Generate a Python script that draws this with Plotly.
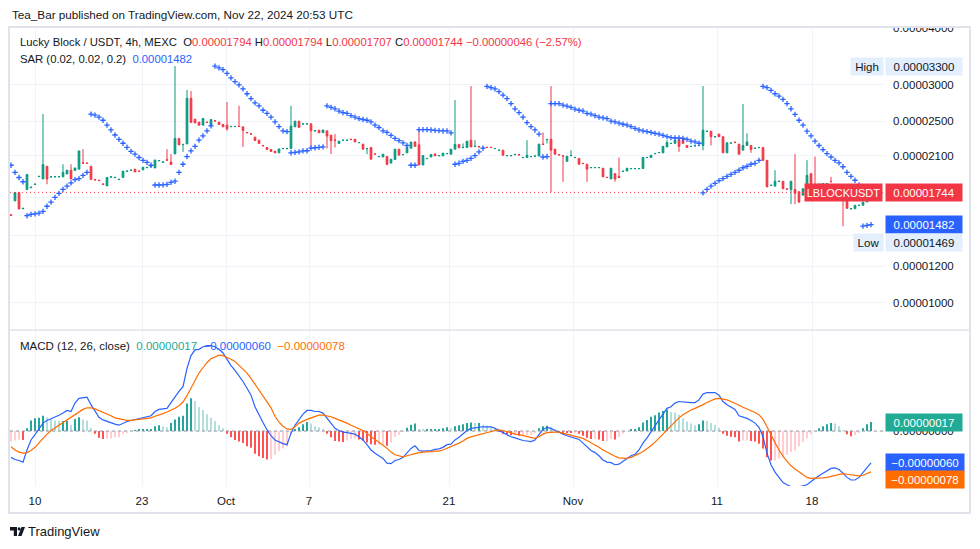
import math
import plotly.graph_objects as go

# ---------------- data (prices in units of 1e-8 USDT) ----------------
UNIT = 1e-8
SYMBOL = "LBLOCKUSDT"
TITLE = "Lucky Block / USDT, 4h, MEXC"
HEADER = "Tea_Bar published on TradingView.com, Nov 22, 2024 20:53 UTC"

OPEN = [1558, 1670, 1742, 1605, 1769, 1785, 1815, 1888, 1866, 1990,
        1884, 1886, 1886, 1886, 1914, 1951, 1948, 1961, 2025, 2022,
        1990, 1860, 1855, 1820, 1802, 1883, 1878, 1860, 1880, 1940,
        1949, 1961, 1942, 1954, 1975, 1990, 1973, 2045, 2031, 2056,
        2033, 2118, 2290, 2220, 2228, 2804, 2524, 2487, 2449, 2488,
        2445, 2505, 2487, 2458, 2449, 2430, 2431, 2435, 2428, 2360,
        2345, 2305, 2270, 2210, 2188, 2166, 2147, 2129, 2175, 2174,
        2177, 2428, 2499, 2462, 2463, 2465, 2378, 2388, 2358, 2380,
        2328, 2272, 2233, 2268, 2268, 2282, 2281, 2241, 2225, 2175,
        2188, 2118, 2088, 2085, 2090, 2022, 2058, 2169, 2109, 2129,
        2180, 2248, 2217, 2003, 2068, 2085, 2115, 2098, 2097, 2120,
        2115, 2169, 2222, 2186, 2188, 2270, 2198, 2197, 2186, 2190,
        2190, 2175, 2156, 2158, 2098, 2098, 2109, 2110, 2078, 2080,
        2088, 2093, 2095, 2225, 2276, 2281, 2169, 2110, 2098, 2040,
        2098, 2078, 2070, 2020, 2010, 1975, 1975, 1975, 1970, 1882,
        1866, 1917, 1890, 1939, 1943, 1965, 1965, 1965, 1967, 2078,
        2080, 2120, 2131, 2129, 2194, 2232, 2234, 2278, 2278, 2210,
        2198, 2205, 2208, 2210, 2373, 2375, 2308, 2341, 2310, 2129,
        2236, 2248, 2225, 2158, 2210, 2210, 2178, 2186, 2188, 2050,
        1806, 1800, 1843, 1845, 1776, 1769, 1769, 1750, 1719, 1776,
        1917, 1808, 1815, 1820, 1820, 1842, 1816, 1814, 1700, 1676,
        1604, 1606, 1632, 1634, 1662, 1794]

HIGH = [1560, 1742, 1742, 1609, 1909, 1790, 1818, 1891, 2589, 1990,
        1886, 1888, 1888, 2010, 1951, 2010, 1973, 2150, 2169, 2022,
        1990, 1860, 1855, 1820, 1880, 1886, 1881, 1863, 1941, 1942,
        1951, 1961, 1942, 1980, 1978, 1993, 2054, 2048, 2034, 2169,
        2115, 3300, 2290, 2222, 2924, 2910, 2524, 2487, 2533, 2488,
        2520, 2505, 2487, 2458, 2752, 2433, 2433, 2701, 2428, 2360,
        2345, 2305, 2270, 2210, 2188, 2166, 2147, 2172, 2177, 2176,
        2701, 2499, 2499, 2465, 2465, 2465, 2380, 2388, 2390, 2380,
        2328, 2341, 2259, 2270, 2270, 2282, 2281, 2243, 2225, 2177,
        2194, 2118, 2090, 2115, 2090, 2062, 2169, 2169, 2111, 2188,
        2248, 2259, 2388, 2100, 2070, 2111, 2126, 2100, 2126, 2122,
        2169, 2780, 2222, 2233, 2259, 2983, 2270, 2197, 2188, 2190,
        2190, 2177, 2158, 2158, 2100, 2100, 2120, 2110, 2080, 2270,
        2090, 2095, 2225, 2360, 2278, 2983, 2169, 2110, 2098, 2093,
        2158, 2080, 2070, 2020, 2010, 1977, 1977, 1977, 1970, 1882,
        1970, 1917, 2080, 1941, 1970, 1967, 1967, 1967, 2080, 2080,
        2104, 2122, 2133, 2200, 2270, 2234, 2270, 2278, 2290, 2210,
        2200, 2207, 2210, 2983, 2375, 2375, 2310, 2341, 2310, 2240,
        2238, 2248, 2225, 2725, 2350, 2210, 2180, 2188, 2188, 2050,
        1808, 1951, 1845, 1845, 1776, 1845, 2115, 1750, 1776, 2052,
        1917, 2090, 1817, 1822, 1822, 1886, 1816, 1814, 1710, 1676,
        1606, 1634, 1634, 1660, 1790, 1794]

LOW = [1550, 1670, 1603, 1605, 1769, 1785, 1815, 1888, 1866, 1817,
       1884, 1886, 1886, 1886, 1914, 1866, 1948, 1961, 2020, 2020,
       1862, 1857, 1851, 1817, 1802, 1883, 1878, 1860, 1880, 1940,
       1949, 1934, 1940, 1954, 1975, 1990, 1973, 2045, 2031, 2052,
       2007, 2118, 2217, 2140, 2228, 2483, 2477, 2449, 2449, 2483,
       2445, 2500, 2458, 2428, 2380, 2430, 2431, 2432, 2194, 2356,
       2341, 2267, 2233, 2206, 2166, 2144, 2129, 2129, 2175, 2174,
       2177, 2428, 2420, 2462, 2463, 2188, 2378, 2356, 2358, 2177,
       2115, 2188, 2233, 2268, 2268, 2278, 2250, 2241, 2169, 2115,
       2062, 2115, 2088, 2085, 2000, 2022, 2058, 2104, 2109, 2129,
       2180, 2200, 2003, 2003, 2068, 2085, 2097, 2098, 2097, 2120,
       2115, 2169, 2185, 2186, 2188, 2194, 2198, 2194, 2186, 2188,
       2188, 2175, 2156, 2104, 2098, 2098, 2109, 2107, 2078, 2080,
       2088, 2093, 2095, 2222, 2233, 1747, 2115, 2107, 1840, 2040,
       2098, 2078, 2010, 2017, 1840, 1975, 1975, 1975, 1886, 1880,
       1866, 1840, 1880, 1939, 1943, 1965, 1965, 1965, 1967, 2078,
       2080, 2120, 2131, 2129, 2194, 2232, 2234, 2140, 2234, 2188,
       2198, 2205, 2208, 2158, 2373, 2210, 2308, 2310, 2129, 2129,
       2236, 2245, 2115, 2158, 2210, 2129, 2178, 2186, 2050, 1793,
       1806, 1800, 1843, 1776, 1773, 1643, 1643, 1660, 1719, 1776,
       1793, 1763, 1815, 1820, 1820, 1840, 1814, 1680, 1469, 1609,
       1604, 1606, 1632, 1634, 1662, 1707]

CLOSE = [1553, 1742, 1603, 1609, 1909, 1790, 1818, 1891, 2007, 1866,
         1886, 1888, 1888, 1928, 1951, 1866, 1973, 2150, 2020, 2020,
         1862, 1857, 1851, 1817, 1880, 1886, 1881, 1863, 1941, 1942,
         1951, 1934, 1940, 1980, 1978, 1993, 2054, 2048, 2034, 2052,
         2007, 2290, 2217, 2222, 2804, 2483, 2477, 2449, 2533, 2483,
         2520, 2500, 2458, 2428, 2404, 2433, 2433, 2432, 2384, 2356,
         2341, 2267, 2233, 2206, 2166, 2144, 2129, 2172, 2177, 2176,
         2437, 2499, 2420, 2465, 2465, 2380, 2380, 2356, 2390, 2317,
         2263, 2270, 2259, 2270, 2270, 2278, 2250, 2243, 2169, 2177,
         2062, 2115, 2090, 2115, 2010, 2062, 2169, 2104, 2111, 2188,
         2248, 2200, 2003, 2100, 2070, 2111, 2097, 2100, 2126, 2122,
         2169, 2222, 2185, 2188, 2259, 2194, 2200, 2194, 2188, 2188,
         2188, 2177, 2158, 2104, 2100, 2100, 2111, 2107, 2080, 2104,
         2090, 2095, 2225, 2222, 2278, 2158, 2115, 2107, 2095, 2093,
         2100, 2080, 2010, 2017, 1961, 1977, 1977, 1977, 1886, 1880,
         1970, 1866, 1880, 1941, 1970, 1967, 1967, 1967, 2080, 2080,
         2104, 2122, 2133, 2200, 2244, 2234, 2270, 2200, 2234, 2188,
         2200, 2207, 2210, 2388, 2375, 2310, 2310, 2310, 2129, 2240,
         2238, 2245, 2115, 2210, 2250, 2166, 2180, 2188, 2050, 1793,
         1808, 1845, 1845, 1776, 1773, 1845, 1736, 1660, 1776, 1900,
         1793, 1763, 1817, 1822, 1822, 1840, 1814, 1680, 1690, 1609,
         1606, 1634, 1634, 1660, 1790, 1744]

SAR = [2000, 1930, 1880, 1840, 1550, 1560, 1565, 1570, 1585, 1626,
       1660, 1700, 1735, 1770, 1800, 1830, 1860, 1870, 1900, 1930,
       2590, 2576, 2550, 2510, 2450, 2390, 2330, 2280, 2235, 2190,
       2146, 2115, 2080, 2050, 2030, 2000, 1810, 1810, 1812, 1815,
       1835, 1845, 1930, 2010, 2090, 2150, 2200, 2270, 2320, 2380,
       2440, 3300, 3270, 3240, 3180, 3110, 3050, 3000, 2940, 2870,
       2800, 2740, 2700, 2640, 2600, 2550, 2490, 2430, 2380, 2370,
       2130, 2135, 2140, 2150, 2152, 2180, 2185, 2190, 2195, 2700,
       2680, 2660, 2630, 2610, 2600, 2570, 2550, 2530, 2520, 2510,
       2490, 2450, 2420, 2380, 2360, 2325, 2290, 2265, 2240, 2210,
       2000, 2000, 2395, 2395, 2395, 2390, 2385, 2382, 2378, 2378,
       2356, 2010, 2020, 2040, 2050, 2070, 2100, 2140, 2180, 2980,
       2960, 2940, 2900, 2850, 2800, 2730, 2660, 2610, 2550, 2480,
       2430, 2390, 2340, 2085, 2090, 2730, 2730, 2730, 2710, 2695,
       2680, 2655, 2640, 2630, 2600, 2590, 2570, 2550, 2540, 2530,
       2500, 2490, 2475, 2460, 2450, 2430, 2410, 2390, 2380, 2370,
       2360, 2350, 2340, 2325, 2310, 2300, 2295, 2295, 2290, 2280,
       2260, 2250, 2235, 1740, 1770, 1800, 1825, 1850, 1870, 1890,
       1910, 1930, 1950, 1975, 1990, 2010, 2020, 2050, 2980, 2960,
       2920, 2870, 2835, 2790, 2730, 2660, 2585, 2510, 2450, 2375,
       2320, 2260, 2210, 2165, 2120, 2085, 2050, 2025, 1985, 1930,
       1890, 1854, 1810, 1470, 1476, 1482]

MACD = [-50, -54, -56, -59, -36, -17, -7, 3, 15, 20,
        23, 26, 30, 34, 39, 37, 53, 62, 63, 64,
        50, 37, 26, 21, 18, 15, 13, 11, 15, 18,
        20, 22, 24, 26, 28, 29, 37, 41, 42, 43,
        54, 65, 75, 84, 119, 143, 154, 155, 160, 162,
        162, 160, 155, 148, 135, 124, 115, 105, 94, 81,
        68, 46, 30, 16, 2, -9, -17, -21, -24, -26,
        -4, 11, 22, 32, 39, 39, 37, 37, 34, 24,
        15, 5, 1, -2, -3, -4, -6, -11, -17, -26,
        -36, -42, -47, -52, -61, -62, -56, -54, -50, -41,
        -33, -28, -37, -38, -38, -37, -35, -34, -31, -26,
        -25, -17, -12, -6, 1, 5, 6, 8, 8, 8,
        8, 5, 1, -4, -7, -11, -13, -16, -18, -19,
        -20, -17, -6, 3, 7, 5, 1, -3, -6, -9,
        -11, -13, -16, -23, -31, -37, -41, -47, -55, -59,
        -60, -64, -63, -57, -52, -47, -44, -36, -23, -13,
        -1, 9, 21, 32, 43, 46, 53, 56, 55, 54,
        54, 54, 59, 70, 73, 73, 73, 68, 56, 50,
        45, 41, 29, 27, 24, 20, 15, 7, -11, -42,
        -64, -78, -88, -98, -102, -106, -109, -106, -104, -102,
        -96, -90, -85, -80, -75, -71, -70, -73, -80, -88,
        -93, -93, -88, -79, -68, -60.4]

SIGNAL = [-30, -36, -40, -42, -41, -37, -31, -22, -14, -6,
          1, 6, 11, 15, 20, 25, 30, 36, 41, 44,
          44, 42, 39, 36, 32, 29, 25, 23, 21, 20,
          20, 21, 22, 23, 24, 25, 28, 30, 33, 36,
          39, 43, 48, 55, 67, 81, 97, 110, 120, 130,
          137, 141, 144, 143, 140, 136, 132, 125, 117, 110,
          100, 89, 78, 67, 56, 44, 28, 17, 9, 4,
          3, 8, 15, 19, 22, 25, 28, 30, 30, 29,
          27, 24, 21, 19, 15, 11, 8, 5, 1, -4,
          -11, -16, -21, -27, -33, -40, -45, -47, -49, -47,
          -45, -42, -41, -40, -40, -39, -38, -38, -36, -33,
          -30, -26, -23, -19, -14, -11, -9, -7, -4, -2,
          0, 1, 2, 1, -1, -3, -6, -7, -9, -11,
          -13, -14, -11, -6, -3, -2, -2, -2, -4, -6,
          -7, -9, -11, -14, -18, -22, -26, -31, -36, -40,
          -45, -48, -51, -52, -52, -50, -47, -43, -39, -34,
          -28, -21, -14, -6, 2, 10, 18, 25, 31, 36,
          40, 43, 46, 50, 54, 58, 61, 62, 61, 59,
          56, 53, 49, 45, 42, 39, 35, 31, 22, 8,
          -8, -22, -36, -48, -57, -66, -72, -77, -83, -88,
          -90, -90, -90, -89, -88, -86, -84, -82, -81, -82,
          -83, -85, -85, -84, -81, -77.6]

TICK_POS = [6, 32.75, 53.75, 74.5, 109.5, 140.5, 176.5, 200.25]
TICK_TEXT = ["10", "23", "Oct", "7", "21", "Nov", "11", "18"]
PRICE_TICKS = [1000, 1200, 1400, 1700, 2100, 2500, 3000, 4000]
PRICE_TICKS_HIDDEN = [1400, 1700]          # covered by price tags
MACD_TICKS = [-100, 0, 100]
MACD_TICKS_HIDDEN = [-100]

# ---------------- styling / geometry ----------------
W, H = 980, 549
PL, PR, PT, PB = 10, 884, 28, 486          # plot area in pixels
FONT = "Liberation Sans, Arial, sans-serif"
TXT = "#131722"
UP, DOWN = "#089981", "#f23645"
BLUE, ORANGE, TEAL = "#2962ff", "#ff6d00", "#22ab94"
GRID = "#f0f3fa"
BORDER = "#e0e3eb"


def px(x):
    return (x - PL) / (PR - PL)


def py(y):
    return (PB - y) / (PB - PT)


def fmt(v):
    s = f"{v * UNIT:.8f}"
    return s.replace("-", "\u2212")


N = len(CLOSE)
X = list(range(N))
HIST = [m - s for m, s in zip(MACD, SIGNAL)]
hist_colors = []
for k, h in enumerate(HIST):
    prev = HIST[k - 1] if k > 0 else h
    if h >= 0:
        hist_colors.append("#26a69a" if h >= prev else "#b2dfdb")
    else:
        hist_colors.append("#ff5252" if h < prev else "#ffcdd2")

XR = [-0.25, 218.25]
PRICE_RANGE = [math.log10(0.8747e-5), math.log10(4.0e-5)]
MACD_RANGE = [-1.0436e-6, 1.8975e-6]
MAIN_DOMAIN = [py(329), 1.0]
MACD_DOMAIN = [0.0, py(331)]

fig = go.Figure()

# price line (last close)
fig.add_trace(go.Scatter(x=XR, y=[CLOSE[-1] * UNIT] * 2, mode="lines",
                         line=dict(color=DOWN, width=1, dash="1px,3px"),
                         hoverinfo="skip", xaxis="x", yaxis="y"))

fig.add_trace(go.Candlestick(
    x=X, open=[v * UNIT for v in OPEN], high=[v * UNIT for v in HIGH],
    low=[v * UNIT for v in LOW], close=[v * UNIT for v in CLOSE],
    increasing=dict(line=dict(color=UP, width=1), fillcolor=UP),
    decreasing=dict(line=dict(color=DOWN, width=1), fillcolor=DOWN),
    whiskerwidth=0, hoverinfo="skip", xaxis="x", yaxis="y"))

fig.add_trace(go.Scatter(
    x=X, y=[v * UNIT for v in SAR], mode="markers",
    marker=dict(symbol="cross-thin", size=3.8, color=BLUE,
                line=dict(width=1.3, color=BLUE)),
    hoverinfo="skip", xaxis="x", yaxis="y"))

# MACD pane
fig.add_trace(go.Bar(x=X, y=[v * UNIT for v in HIST], width=0.5,
                     marker=dict(color=hist_colors, line=dict(width=0)),
                     hoverinfo="skip", xaxis="x", yaxis="y2"))
fig.add_trace(go.Scatter(x=XR, y=[0, 0], mode="lines",
                         line=dict(color="#9598a1", width=1, dash="3px,3px"),
                         hoverinfo="skip", xaxis="x", yaxis="y2"))
fig.add_trace(go.Scatter(x=X, y=[v * UNIT for v in MACD], mode="lines",
                         line=dict(color=BLUE, width=1.2),
                         hoverinfo="skip", xaxis="x", yaxis="y2"))
fig.add_trace(go.Scatter(x=X, y=[v * UNIT for v in SIGNAL], mode="lines",
                         line=dict(color=ORANGE, width=1.2),
                         hoverinfo="skip", xaxis="x", yaxis="y2"))

axis_font = dict(family=FONT, size=11.5, color=TXT)

fig.update_layout(
    width=W, height=H, margin=dict(l=PL, r=W - PR, t=PT, b=H - PB),
    paper_bgcolor="white", plot_bgcolor="white", showlegend=False,
    boxgap=0.4,
    font=dict(family=FONT, color=TXT),
    xaxis=dict(range=XR, anchor="y2", tickmode="array", tickvals=TICK_POS,
               ticktext=TICK_TEXT, showgrid=True, gridcolor=GRID, gridwidth=1,
               zeroline=False, showline=False, ticks="",
               tickfont=dict(family=FONT, size=11.5, color=TXT),
               rangeslider=dict(visible=False), ticklabelstandoff=6),
    yaxis=dict(type="log", domain=MAIN_DOMAIN, range=PRICE_RANGE, side="right",
               anchor="x", tickmode="array",
               tickvals=[v * UNIT for v in PRICE_TICKS],
               ticktext=["" if v in PRICE_TICKS_HIDDEN else fmt(v) for v in PRICE_TICKS],
               showgrid=True, gridcolor=GRID, zeroline=False, showline=False,
               ticks="", tickfont=axis_font, ticklabelstandoff=8),
    yaxis2=dict(domain=MACD_DOMAIN, range=MACD_RANGE, side="right", anchor="x",
                tickmode="array", tickvals=[v * UNIT * 1e2 for v in MACD_TICKS],
                ticktext=["" if v in MACD_TICKS_HIDDEN else fmt(v * 1e2) for v in MACD_TICKS],
                showgrid=True, gridcolor=GRID, zeroline=False, showline=False,
                ticks="", tickfont=axis_font, ticklabelstandoff=8),
)

shapes = [
    # white band above the chart box (clips the top price label)
    dict(type="rect", xref="paper", yref="paper", x0=px(0), x1=px(W),
         y0=py(27), y1=py(0), fillcolor="white", line=dict(width=0), layer="above"),
    # chart box border
    dict(type="rect", xref="paper", yref="paper", x0=px(9), x1=px(970),
         y0=py(513), y1=py(27), line=dict(color=BORDER, width=2), layer="above"),
    # pane separator
    dict(type="line", xref="paper", yref="paper", x0=px(9), x1=px(970),
         y0=py(330), y1=py(330), line=dict(color=BORDER, width=1.5), layer="above"),
    # TradingView logo mark
    dict(type="rect", xref="paper", yref="paper", x0=px(10), x1=px(17),
         y0=py(530.5), y1=py(527), fillcolor=TXT, line=dict(width=0), layer="above"),
    dict(type="rect", xref="paper", yref="paper", x0=px(13.8), x1=px(17),
         y0=py(536), y1=py(527), fillcolor=TXT, line=dict(width=0), layer="above"),
    dict(type="circle", xref="paper", yref="paper", x0=px(17.6), x1=px(20.6),
         y0=py(530.6), y1=py(527.2), fillcolor=TXT, line=dict(width=0), layer="above"),
    dict(type="path", xref="paper", yref="paper",
         path=f"M {px(21.5)} {py(527)} L {px(25)} {py(527)} L {px(21.5)} {py(536)} L {px(18)} {py(536)} Z",
         fillcolor=TXT, line=dict(width=0), layer="above"),
]
fig.update_layout(shapes=shapes)

red = lambda s: f"<span style='color:{DOWN}'>{s}</span>"
chg = CLOSE[-1] - CLOSE[-2]
pct = chg / CLOSE[-2] * 100
pct_s = f"{pct:.2f}".replace("-", "\u2212")
sp = "\u00a0 "
line1 = (f"{TITLE}{sp}O{red(fmt(OPEN[-1]))}\u00a0H{red(fmt(HIGH[-1]))}"
         f"\u00a0L{red(fmt(LOW[-1]))}\u00a0C{red(fmt(CLOSE[-1]))}"
         f"\u00a0{red(fmt(chg) + ' (' + pct_s + '%)')}")
line2 = f"SAR (0.02, 0.02, 0.2){sp}<span style='color:{BLUE}'>{fmt(SAR[-1])}</span>"
line3 = (f"MACD (12, 26, close){sp}<span style='color:{TEAL}'>{fmt(HIST[-1])}</span>"
         f"{sp}<span style='color:{BLUE}'>{fmt(MACD[-1])}</span>"
         f"{sp}<span style='color:{ORANGE}'>{fmt(SIGNAL[-1])}</span>")


def label(text, x, y, size=12.5, color=TXT):
    return dict(text=text, xref="paper", yref="paper", x=px(x), y=py(y),
                xanchor="left", yanchor="middle", showarrow=False,
                font=dict(family=FONT, size=size, color=color))


def tag(text, yref, yval, bg, fg, x, xanchor="left", yshift=0, width=72, size=11.5):
    return dict(text=text, xref="paper", x=px(x), xanchor=xanchor,
                yref=yref, y=yval, yanchor="middle", yshift=yshift,
                showarrow=False, bgcolor=bg, borderpad=2, width=width, height=13,
                align="center", font=dict(family=FONT, size=size, color=fg))


ann = [
    label(HEADER, 10, 14, size=11.7),
    label(line1, 18, 42, size=11.3),
    label(line2, 18, 59, size=11.3),
    label(line3, 18, 346, size=11.5),
    label("TradingView", 26, 531.5, size=13),
]
hi = max(HIGH)
lo = min(LOW)
LIGHT = "#e3effd"
ann += [
    tag("High", "y", math.log10(hi * UNIT), LIGHT, TXT, 884, "right", 0, 28),
    tag(fmt(hi), "y", math.log10(hi * UNIT), LIGHT, TXT, 885, "left", 0, 72),
    tag(SYMBOL, "y", math.log10(CLOSE[-1] * UNIT), DOWN, "white", 883, "right", 0, 73, 11),
    tag(fmt(CLOSE[-1]), "y", math.log10(CLOSE[-1] * UNIT), DOWN, "white", 885, "left", 0, 72),
    tag(fmt(SAR[-1]), "y", math.log10(SAR[-1] * UNIT), BLUE, "white", 885, "left", 0, 72),
    tag("Low", "y", math.log10(lo * UNIT), LIGHT, TXT, 884, "right", -16, 25),
    tag(fmt(lo), "y", math.log10(lo * UNIT), LIGHT, TXT, 885, "left", -16, 72),
    tag(fmt(HIST[-1]), "y2", HIST[-1] * UNIT, TEAL, "white", 885, "left", -1, 72),
    tag(fmt(MACD[-1]), "y2", MACD[-1] * UNIT, BLUE, "white", 885, "left", 0, 74),
    tag(fmt(SIGNAL[-1]), "y2", SIGNAL[-1] * UNIT, ORANGE, "white", 885, "left", -8, 74),
]
fig.update_layout(annotations=ann)

fig.write_html("out.html")
